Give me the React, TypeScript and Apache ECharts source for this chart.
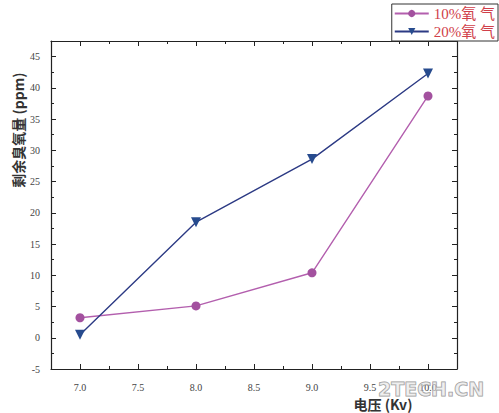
import React, { useEffect, useRef } from 'react'
import * as echarts from 'echarts'

const voltages = [7.0, 8.0, 9.0, 10.0]
const ozone10 = [3.2, 5.1, 10.4, 38.7]
const ozone20 = [0.5, 18.5, 28.6, 42.3]
const seriesNames = ['10%氧 气', '20%氧 气']

const xMin = 6.75
const xMax = 10.25
const yMin = -5
const yMax = 47.5

// positions of every tick (0.25 / 2.5 steps) used by the overlay category axes
const xTickSlots = ['6.75', '7.0', '7.25', '7.5', '7.75', '8.0', '8.25', '8.5', '8.75', '9.0', '9.25', '9.5', '9.75', '10.0', '10.25']
const yTickSlots = ['-5', '-2.5', '0', '2.5', '5', '7.5', '10', '12.5', '15', '17.5', '20', '22.5', '25', '27.5', '30', '32.5', '35', '37.5', '40', '42.5', '45', '47.5']

const axisColor = '#222'
const labelFont = { color: '#444', fontSize: 10, fontFamily: 'Liberation Serif, DejaVu Serif, serif' }

const App: React.FC = () => {
    const chartRef = useRef<HTMLDivElement>(null)

    useEffect(() => {
        const chart = echarts.init(chartRef.current, null, { renderer: 'svg' })

        const valueX = (position: string, labels: boolean) => ({
            type: 'value',
            position,
            min: xMin,
            max: xMax,
            interval: 0.25,
            axisLine: { show: true, onZero: false, lineStyle: { color: axisColor, width: 1.2 } },
            axisTick: { show: true, inside: true, length: 3, lineStyle: { color: axisColor } },
            axisLabel: {
                show: labels,
                margin: 13,
                ...labelFont,
                formatter: (v: number) => (Math.abs(v * 2 - Math.round(v * 2)) < 1e-6 ? v.toFixed(1) : ''),
            },
            splitLine: { show: false },
        })
        const majorX = (position: string) => ({
            type: 'category',
            position,
            data: xTickSlots,
            boundaryGap: false,
            axisLine: { show: false, onZero: false },
            axisTick: { show: true, inside: true, length: 5, interval: (i: number) => i % 2 === 1, lineStyle: { color: axisColor } },
            axisLabel: { show: false },
            splitLine: { show: false },
        })
        const valueY = (position: string, labels: boolean) => ({
            type: 'value',
            position,
            min: yMin,
            max: yMax,
            interval: 2.5,
            axisLine: { show: true, onZero: false, lineStyle: { color: axisColor, width: 1.2 } },
            axisTick: { show: true, inside: true, length: 3, lineStyle: { color: axisColor } },
            axisLabel: {
                show: labels,
                margin: 11,
                ...labelFont,
                formatter: (v: number) => (Math.abs(v % 5) < 1e-6 && v < 46 ? String(v) : ''),
            },
            splitLine: { show: false },
        })
        const majorY = (position: string) => ({
            type: 'category',
            position,
            data: yTickSlots,
            boundaryGap: false,
            axisLine: { show: false, onZero: false },
            axisTick: { show: true, inside: true, length: 5, interval: (i: number) => i % 2 === 0, lineStyle: { color: axisColor } },
            axisLabel: { show: false },
            splitLine: { show: false },
        })

        const option = {
            animation: false,
            backgroundColor: '#fff',
            grid: { left: 51, right: 42, top: 41, bottom: 44 },
            legend: {
                orient: 'vertical',
                right: 1,
                top: 4,
                data: seriesNames,
                itemWidth: 34,
                itemHeight: 9,
                itemGap: 3,
                padding: [2, 3, 2, 2],
                backgroundColor: '#fff',
                borderColor: '#333',
                borderWidth: 1,
                textStyle: { color: '#d0404a', fontSize: 15, lineHeight: 15, fontFamily: 'Liberation Serif, Noto Sans CJK SC, serif' },
                z: 10,
            },
            xAxis: [valueX('bottom', true), majorX('bottom'), valueX('top', false), majorX('top')],
            yAxis: [valueY('left', true), majorY('left'), valueY('right', false), majorY('right')],
            series: [
                {
                    name: seriesNames[0],
                    type: 'line',
                    data: voltages.map((v, i) => [v, ozone10[i]]),
                    symbol: 'circle',
                    symbolSize: 9,
                    lineStyle: { color: '#b35fae', width: 1.4 },
                    itemStyle: { color: '#a3519f' },
                },
                {
                    name: seriesNames[1],
                    type: 'line',
                    data: voltages.map((v, i) => [v, ozone20[i]]),
                    symbol: 'triangle',
                    symbolRotate: 180,
                    symbolSize: 10,
                    lineStyle: { color: '#2c3a84', width: 1.4 },
                    itemStyle: { color: '#274b8e' },
                },
            ],
            graphic: [
                {
                    type: 'text',
                    x: 18,
                    y: 130,
                    rotation: Math.PI / 2,
                    style: {
                        text: '剩余臭氧量 (ppm)',
                        fill: '#333',
                        font: 'bold 14px "Noto Sans CJK SC", sans-serif',
                        textAlign: 'center',
                        textVerticalAlign: 'middle',
                    },
                },
                {
                    type: 'text',
                    x: 383,
                    y: 404,
                    style: {
                        text: '电压 (Kv)',
                        fill: '#333',
                        font: 'bold 14px "Noto Sans CJK SC", sans-serif',
                        textAlign: 'center',
                        textVerticalAlign: 'middle',
                    },
                },
                {
                    type: 'text',
                    x: 378,
                    y: 379,
                    z: 20,
                    style: {
                        text: '2TECH.CN',
                        fill: 'rgba(225,225,225,0.55)',
                        stroke: 'rgba(130,130,130,0.85)',
                        lineWidth: 1,
                        font: 'bold 19px "DejaVu Sans", sans-serif',
                    },
                },
            ],
        }

        chart.setOption(option)

        return () => {
            chart.dispose()
        }
    }, [])

    return <div ref={chartRef} style={{ position: 'fixed', left: 0, top: 0, width: '499px', height: '413px' }} />
}

export default App
